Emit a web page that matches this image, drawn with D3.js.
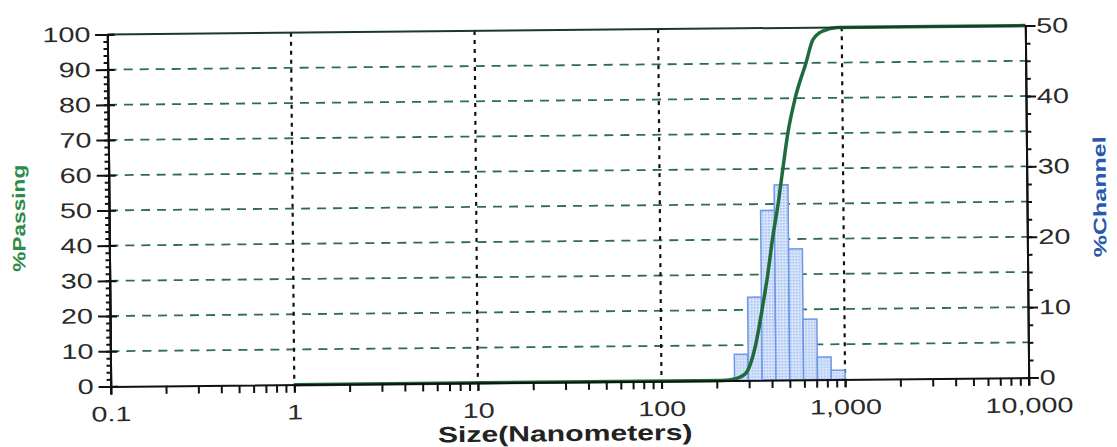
<!DOCTYPE html>
<html>
<head>
<meta charset="utf-8">
<script src="https://cdn.jsdelivr.net/npm/d3@7"></script>
<style>
  body { margin: 0; background: #fff; }
  text { font-family: "Liberation Sans", Arial, sans-serif; }
</style>
</head>
<body>
<svg id="chart" width="1117" height="447"></svg>
<script>
// channel edges (nm) and % in each channel
const binEdges = [250, 297.3, 353.6, 420.4, 500, 594.6, 707.1, 840.9, 1000];
const channelPct = [3.7, 11.8, 24.1, 27.7, 18.6, 8.6, 3.2, 1.3];

// cumulative % passing curve
const curveSize = [1, 215, 254, 288, 327, 356, 384, 409, 441, 470, 502, 553, 636, 695, 787, 950, 10000];
const curvePassing = [0, 0, 0.5, 2, 10, 20, 30, 40, 50, 60, 70, 80, 90, 96.5, 99, 100, 100];

const xTicks = [0.1, 1, 10, 100, 1000, 10000];
const leftTicks = [0, 10, 20, 30, 40, 50, 60, 70, 80, 90, 100];
const rightTicks = [0, 10, 20, 30, 40, 50];

const plotL = 109, plotR = 1027, plotT = 30, plotB = 382;

// the source scan is tilted a little
const root = d3.select('#chart').append('g')
  .attr('transform', 'rotate(-0.55 568 205)');

const x = d3.scaleLog().domain([0.1, 10000]).range([plotL, plotR]);
const yL = d3.scaleLinear().domain([0, 100]).range([plotB, plotT]);
const yR = d3.scaleLinear().domain([0, 50]).range([plotB, plotT]);

// wide glyphs like the original
function stretch(sel, k) {
  sel.each(function() {
    const w = this.getComputedTextLength();
    d3.select(this).attr('textLength', w * k).attr('lengthAdjust', 'spacingAndGlyphs');
  });
}

// dotted fill for the bars
const defs = d3.select('#chart').append('defs');
const pat = defs.append('pattern')
  .attr('id', 'dots')
  .attr('width', 3).attr('height', 3)
  .attr('patternUnits', 'userSpaceOnUse');
pat.append('rect').attr('width', 3).attr('height', 3).attr('fill', '#dbe6fb');
pat.append('rect').attr('width', 1.5).attr('height', 1.5).attr('fill', '#9ab8f0');

// horizontal grid
root.append('g')
  .selectAll('line')
  .data(leftTicks.filter(d => d > 0 && d < 100))
  .join('line')
  .attr('x1', plotL).attr('x2', plotR)
  .attr('y1', d => yL(d)).attr('y2', d => yL(d))
  .attr('stroke', '#2c6e55')
  .attr('stroke-width', 1.8)
  .attr('stroke-dasharray', '9,7');

// vertical grid
root.append('g')
  .selectAll('line')
  .data(xTicks.filter(d => d > 0.1 && d < 10000))
  .join('line')
  .attr('x1', d => x(d)).attr('x2', d => x(d))
  .attr('y1', plotT).attr('y2', plotB)
  .attr('stroke', '#111')
  .attr('stroke-width', 2.2)
  .attr('stroke-dasharray', '4,5');

// histogram
root.append('g')
  .selectAll('rect')
  .data(channelPct)
  .join('rect')
  .attr('x', (d, i) => x(binEdges[i]))
  .attr('width', (d, i) => x(binEdges[i + 1]) - x(binEdges[i]))
  .attr('y', d => yR(d))
  .attr('height', d => yR(0) - yR(d))
  .attr('fill', 'url(#dots)')
  .attr('stroke', '#6d97e8')
  .attr('stroke-width', 1.5);

// cumulative curve
const line = d3.line()
  .x((d, i) => x(curveSize[i]))
  .y(d => yL(d))
  .curve(d3.curveMonotoneX);

root.append('path')
  .datum(curvePassing)
  .attr('d', line)
  .attr('fill', 'none')
  .attr('stroke', '#1f6b3c')
  .attr('stroke-width', 3.5);

// frame top
root.append('line')
  .attr('x1', plotL).attr('x2', plotR)
  .attr('y1', plotT).attr('y2', plotT)
  .attr('stroke', '#1a3a28').attr('stroke-width', 2);

const styleAxis = g => {
  g.select('.domain').attr('stroke', '#111').attr('stroke-width', 2);
  g.selectAll('.tick line').attr('stroke', '#111').attr('stroke-width', 2);
  g.selectAll('text')
    .attr('font-size', 21)
    .attr('fill', '#2a2a2a')
    .call(stretch, 1.37);
};

// left axis
root.append('g')
  .attr('transform', `translate(${plotL},0)`)
  .call(d3.axisLeft(yL).tickValues(d3.range(0, 101, 2)).tickSize(4).tickFormat(''))
  .call(styleAxis);
root.append('g')
  .attr('transform', `translate(${plotL},0)`)
  .call(d3.axisRight(yL).tickValues(leftTicks).tickSize(7).tickFormat(''))
  .call(styleAxis);
root.append('g')
  .attr('transform', `translate(${plotL},0)`)
  .call(d3.axisLeft(yL).tickValues(leftTicks).tickSize(12).tickPadding(5))
  .call(styleAxis);

// right axis
root.append('g')
  .attr('transform', `translate(${plotR},0)`)
  .call(d3.axisRight(yR).tickValues(d3.range(0, 50.1, 2.5)).tickSize(5).tickFormat(''))
  .call(styleAxis);
root.append('g')
  .attr('transform', `translate(${plotR},0)`)
  .call(d3.axisRight(yR).tickValues(rightTicks).tickSize(10).tickPadding(1))
  .call(styleAxis);

// bottom axis
const minor = [];
for (let p = -1; p < 4; p++) {
  for (let m = 1; m < 10; m++) minor.push(m * Math.pow(10, p));
}
minor.push(10000);
root.append('g')
  .attr('transform', `translate(0,${plotB})`)
  .call(d3.axisBottom(x).tickValues(minor).tickSize(8).tickFormat(''))
  .call(styleAxis);
root.append('g')
  .attr('transform', `translate(0,${plotB})`)
  .call(d3.axisBottom(x).tickValues(xTicks).tickSize(8).tickPadding(12)
    .tickFormat(d => d < 1 ? String(d) : d3.format(',')(d)))
  .call(styleAxis)
  .call(g => g.select('.domain').remove());

// titles
root.append('text')
  .attr('x', 563).attr('y', 441)
  .attr('text-anchor', 'middle')
  .attr('font-size', 22).attr('font-weight', 'bold')
  .attr('fill', '#222')
  .text('Size(Nanometers)')
  .call(stretch, 1.37);

root.append('text')
  .attr('transform', 'translate(25,213) rotate(-90)')
  .attr('text-anchor', 'middle')
  .attr('font-size', 18).attr('font-weight', 'bold')
  .attr('fill', '#2e8b46')
  .attr('textLength', 107).attr('lengthAdjust', 'spacingAndGlyphs')
  .text('%Passing');

root.append('text')
  .attr('transform', 'translate(1106,202) rotate(-90)')
  .attr('text-anchor', 'middle')
  .attr('font-size', 18).attr('font-weight', 'bold')
  .attr('fill', '#2a58b0')
  .attr('textLength', 121).attr('lengthAdjust', 'spacingAndGlyphs')
  .text('%Channel');
</script>
</body>
</html>
